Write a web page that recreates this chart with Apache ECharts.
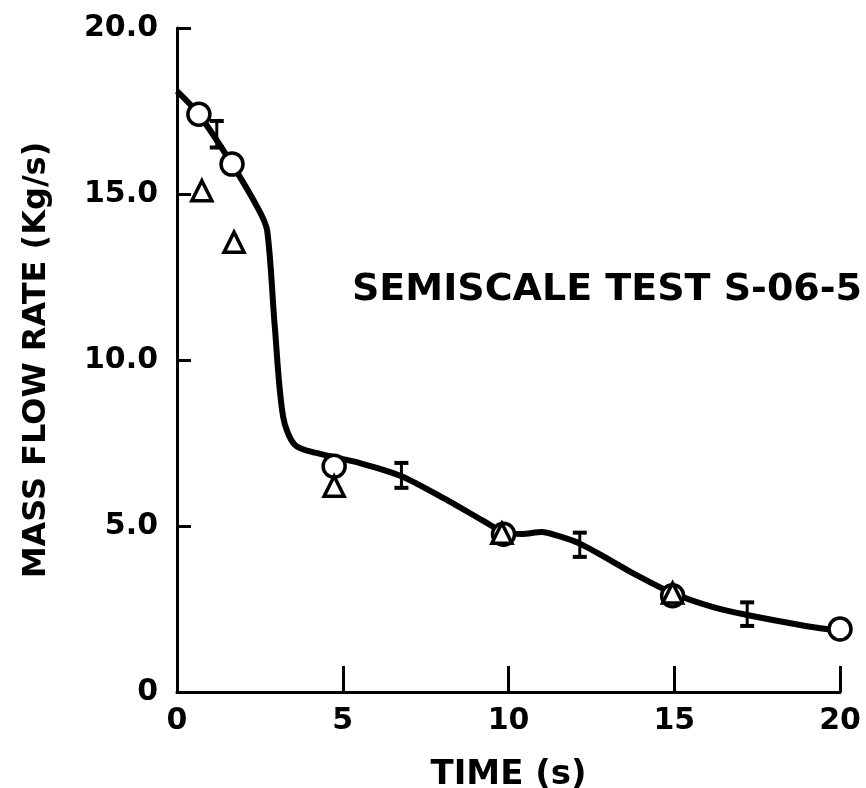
<!DOCTYPE html>
<html>
<head>
<meta charset="utf-8">
<style>html,body{margin:0;padding:0;background:#fff;}#c{width:866px;height:788px;}</style>
<script src="https://cdn.jsdelivr.net/npm/echarts@6/dist/echarts.min.js"></script>
</head>
<body>
<div id="c"></div>
<script>
var xTicks = [0, 5, 10, 15, 20];
var yTicks = [0, 5, 10, 15, 20];
var curve = [
  [0, 18.1], [0.66, 17.4], [1.66, 15.9], [2.48, 14.5], [2.72, 13.9],
  [2.95, 11.0], [3.2, 8.3], [3.55, 7.45], [4.2, 7.2],
  [5.5, 6.9], [6.77, 6.5], [8.2, 5.75], [9.2, 5.18], [9.9, 4.8],
  [10.4, 4.76], [11.0, 4.82], [11.5, 4.7], [12.15, 4.47], [13.05, 3.98],
  [13.75, 3.58], [14.9, 3.0], [16.2, 2.55], [17.2, 2.32], [18.8, 2.02],
  [19.7, 1.88]
];
var circles = [[0.66, 17.4], [1.66, 15.9], [4.74, 6.8], [9.85, 4.75], [14.95, 2.9], [20, 1.9]];
var triangles = [[0.75, 15.1], [1.72, 13.55], [4.74, 6.2], [9.8, 4.78], [14.95, 2.98]];
var errorBars = [[1.2, 16.4, 17.2], [6.77, 6.15, 6.9], [12.15, 4.07, 4.8], [17.2, 1.99, 2.7]];
var titleText = 'SEMISCALE TEST S-06-5';
var xName = 'TIME (s)';
var yName = 'MASS FLOW RATE (Kg/s)';

var chart = echarts.init(document.getElementById('c'), null, {renderer: 'canvas'});
var FONT = 'DejaVu Sans';
var option = {
  animation: false,
  backgroundColor: '#fff',
  grid: {left: 177, right: 26, top: 28, bottom: 96, containLabel: false, outerBoundsMode: 'none'},
  xAxis: {
    type: 'value', min: 0, max: 20, interval: 5,
    name: xName, nameLocation: 'middle', nameGap: 66,
    nameTextStyle: {fontFamily: FONT, fontWeight: 'bold', fontSize: 34, color: '#000'},
    axisLine: {show: true, lineStyle: {color: '#000', width: 3}},
    axisTick: {show: true, inside: true, length: 26, lineStyle: {color: '#000', width: 3}},
    axisLabel: {margin: 14, fontFamily: FONT, fontWeight: 'bold', fontSize: 30, color: '#000',
      formatter: function (v) { return String(v); }},
    splitLine: {show: false}
  },
  yAxis: {
    type: 'value', min: 0, max: 20, interval: 5,
    name: yName, nameLocation: 'middle', nameGap: 124, nameRotate: 90,
    nameTextStyle: {fontFamily: FONT, fontWeight: 'bold', fontSize: 32, color: '#000'},
    axisLine: {show: true, lineStyle: {color: '#000', width: 3}},
    axisTick: {show: true, inside: true, length: 14, lineStyle: {color: '#000', width: 3}},
    axisLabel: {margin: 19, fontFamily: FONT, fontWeight: 'bold', fontSize: 30, color: '#000',
      formatter: function (v) { return v === 0 ? '0' : v.toFixed(1); }},
    splitLine: {show: false}
  },
  graphic: [{
    type: 'text', left: 352, top: 271,
    style: {text: titleText, fontFamily: FONT, fontWeight: 'bold', fontSize: 38, fill: '#000'}
  }],
  series: [
    {
      type: 'line', data: curve, smooth: 0.3, showSymbol: false,
      lineStyle: {color: '#000', width: 6}, z: 2
    },
    {
      type: 'custom', z: 3,
      renderItem: function (params, api) {
        var x = api.value(0);
        var lo = api.coord([x, api.value(1)]);
        var hi = api.coord([x, api.value(2)]);
        var w = 7;
        return {
          type: 'group',
          children: [
            {type: 'line', shape: {x1: lo[0], y1: lo[1], x2: hi[0], y2: hi[1]}, style: {stroke: '#000', lineWidth: 3}},
            {type: 'line', shape: {x1: lo[0] - w, y1: lo[1], x2: lo[0] + w, y2: lo[1]}, style: {stroke: '#000', lineWidth: 4}},
            {type: 'line', shape: {x1: hi[0] - w, y1: hi[1], x2: hi[0] + w, y2: hi[1]}, style: {stroke: '#000', lineWidth: 4}}
          ]
        };
      },
      data: errorBars
    },
    {
      type: 'scatter', data: circles, symbol: 'circle', symbolSize: 22, z: 4,
      itemStyle: {color: '#fff', borderColor: '#000', borderWidth: 3.5, opacity: 1}
    },
    {
      type: 'scatter', data: triangles, symbol: 'triangle', symbolSize: 20, z: 5,
      itemStyle: {color: '#fff', borderColor: '#000', borderWidth: 3.5, opacity: 1}
    }
  ]
};
chart.setOption(option);
</script>
</body>
</html>
